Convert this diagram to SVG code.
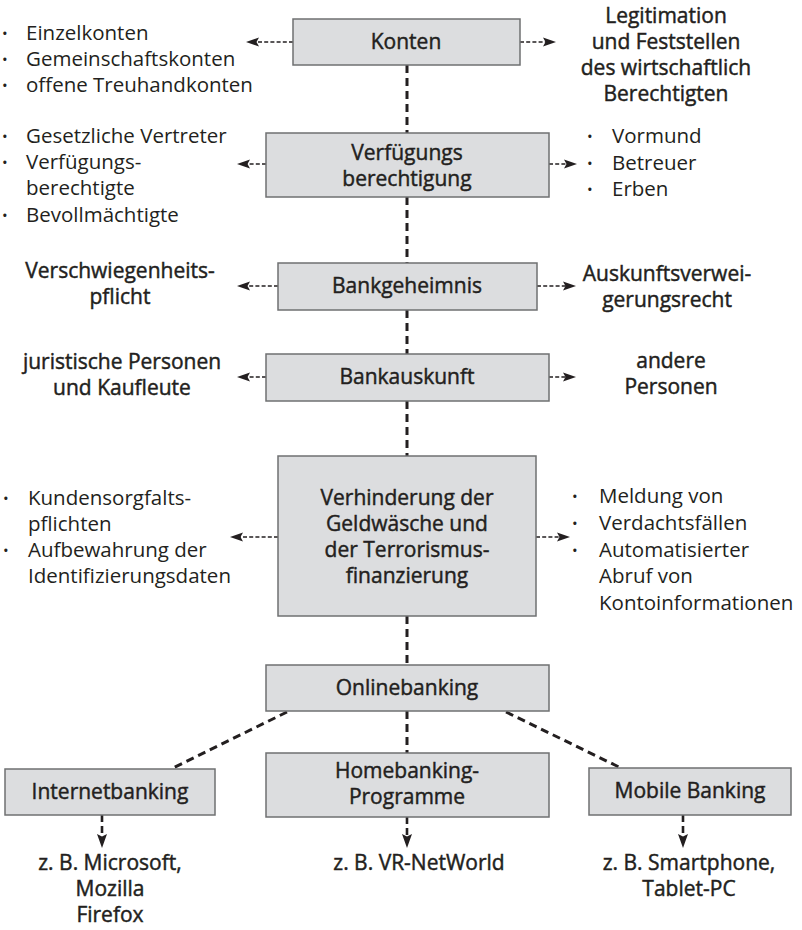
<svg xmlns="http://www.w3.org/2000/svg" width="802" height="930" viewBox="0 0 802 930">
<defs>
<style>
text{font-family:'Open Sans','Noto Sans',sans-serif;font-size:20.5px;fill:#231f20}
.b{font-size:21px;stroke:#231f20;stroke-width:0.45}
.c{text-anchor:middle}
.bu{font-size:15px}
.box{fill:#dcdddf;stroke:#6f7072;stroke-width:1.5}
.thin{stroke:#231f20;stroke-width:1.4;stroke-dasharray:4 2.2;fill:none}
.thick{stroke:#231f20;stroke-width:3;stroke-dasharray:8 5;fill:none}
.down{stroke:#231f20;stroke-width:2.6;stroke-dasharray:7 4;fill:none}
</style>
<marker id="ah" markerUnits="userSpaceOnUse" markerWidth="14" markerHeight="10" refX="7" refY="4.5" orient="auto" overflow="visible">
<path d="M0,0 L13,4.5 L0,9 L2.5,4.5 Z" fill="#231f20"/>
</marker>
<marker id="ahd" markerUnits="userSpaceOnUse" markerWidth="14" markerHeight="12" refX="6" refY="5" orient="auto" overflow="visible">
<path d="M0,0 L14,5 L0,10 L2.5,5 Z" fill="#231f20"/>
</marker>
</defs>
<rect width="802" height="930" fill="#ffffff"/>

<g id="connectors">
<line class="thick" x1="407" y1="65" x2="407" y2="133"/>
<line class="thick" x1="407" y1="197" x2="407" y2="263"/>
<line class="thick" x1="407" y1="310" x2="407" y2="354"/>
<line class="thick" x1="407" y1="401" x2="407" y2="456"/>
<line class="thick" x1="407" y1="616" x2="407" y2="665"/>
<line class="thick" x1="407" y1="711" x2="407" y2="753"/>
<line class="thick" x1="287" y1="712" x2="173" y2="768"/>
<line class="thick" x1="506" y1="712" x2="621" y2="768"/>
<line class="thin" x1="293" y1="42" x2="252" y2="42" marker-end="url(#ah)"/>
<line class="thin" x1="520" y1="42" x2="550" y2="42" marker-end="url(#ah)"/>
<line class="thin" x1="266" y1="164" x2="243" y2="164" marker-end="url(#ah)"/>
<line class="thin" x1="549" y1="164" x2="571" y2="164" marker-end="url(#ah)"/>
<line class="thin" x1="278" y1="286" x2="243" y2="286" marker-end="url(#ah)"/>
<line class="thin" x1="537" y1="286" x2="570" y2="286" marker-end="url(#ah)"/>
<line class="thin" x1="266" y1="377" x2="243" y2="377" marker-end="url(#ah)"/>
<line class="thin" x1="549" y1="377" x2="570" y2="377" marker-end="url(#ah)"/>
<line class="thin" x1="278" y1="537" x2="236" y2="537" marker-end="url(#ah)"/>
<line class="thin" x1="536" y1="537" x2="564" y2="537" marker-end="url(#ah)"/>
<line class="down" x1="102" y1="815" x2="102" y2="840" marker-end="url(#ahd)"/>
<line class="down" x1="407" y1="817" x2="407" y2="840" marker-end="url(#ahd)"/>
<line class="down" x1="683" y1="815" x2="683" y2="840" marker-end="url(#ahd)"/>
</g>

<g id="konten">
<rect class="box" x="293" y="19" width="227" height="46"/>
<text class="b c" x="406" y="49">Konten</text>
</g>
<g id="konten-links">
<text class="bu" x="2" y="39">•</text><text x="26" y="40">Einzelkonten</text>
<text class="bu" x="2" y="65">•</text><text x="26" y="66">Gemeinschaftskonten</text>
<text class="bu" x="2" y="91">•</text><text x="26" y="92">offene Treuhandkonten</text>
</g>
<g id="konten-rechts">
<text class="b c" x="666" y="23">Legitimation</text>
<text class="b c" x="666" y="49">und Feststellen</text>
<text class="b c" x="666" y="75">des wirtschaftlich</text>
<text class="b c" x="666" y="101">Berechtigten</text>
</g>

<g id="verfuegung">
<rect class="box" x="266" y="133" width="283" height="64"/>
<text class="b c" x="407" y="160">Verfügungs</text>
<text class="b c" x="407" y="186">berechtigung</text>
</g>
<g id="verfuegung-links">
<text class="bu" x="2" y="142">•</text><text x="26" y="143">Gesetzliche Vertreter</text>
<text class="bu" x="2" y="168">•</text><text x="26" y="169">Verfügungs-</text>
<text x="26" y="195">berechtigte</text>
<text class="bu" x="2" y="221">•</text><text x="26" y="222">Bevollmächtigte</text>
</g>
<g id="verfuegung-rechts">
<text class="bu" x="587" y="142">•</text><text x="612" y="143">Vormund</text>
<text class="bu" x="587" y="169">•</text><text x="612" y="170">Betreuer</text>
<text class="bu" x="587" y="195">•</text><text x="612" y="196">Erben</text>
</g>

<g id="bankgeheimnis">
<rect class="box" x="278" y="263" width="259" height="47"/>
<text class="b c" x="407" y="293">Bankgeheimnis</text>
</g>
<g id="bankgeheimnis-links">
<text class="b c" x="120" y="278">Verschwiegenheits-</text>
<text class="b c" x="120" y="304">pflicht</text>
</g>
<g id="bankgeheimnis-rechts">
<text class="b c" x="667" y="281">Auskunftsverwei-</text>
<text class="b c" x="667" y="307">gerungsrecht</text>
</g>

<g id="bankauskunft">
<rect class="box" x="266" y="354" width="283" height="47"/>
<text class="b c" x="407" y="384">Bankauskunft</text>
</g>
<g id="bankauskunft-links">
<text class="b c" x="122" y="369">juristische Personen</text>
<text class="b c" x="122" y="395">und Kaufleute</text>
</g>
<g id="bankauskunft-rechts">
<text class="b c" x="671" y="368">andere</text>
<text class="b c" x="671" y="394">Personen</text>
</g>

<g id="geldwaesche">
<rect class="box" x="278" y="456" width="258" height="160"/>
<text class="b c" x="407" y="505">Verhinderung der</text>
<text class="b c" x="407" y="531">Geldwäsche und</text>
<text class="b c" x="407" y="557">der Terrorismus-</text>
<text class="b c" x="407" y="583">finanzierung</text>
</g>
<g id="geldwaesche-links">
<text class="bu" x="3" y="504">•</text><text x="28" y="505">Kundensorgfalts-</text>
<text x="28" y="531">pflichten</text>
<text class="bu" x="3" y="556">•</text><text x="28" y="557">Aufbewahrung der</text>
<text x="28" y="583">Identifizierungsdaten</text>
</g>
<g id="geldwaesche-rechts">
<text class="bu" x="572" y="502">•</text><text x="599" y="503">Meldung von</text>
<text class="bu" x="572" y="529">•</text><text x="599" y="530">Verdachtsfällen</text>
<text class="bu" x="572" y="556">•</text><text x="599" y="557">Automatisierter</text>
<text x="599" y="583">Abruf von</text>
<text x="599" y="610">Kontoinformationen</text>
</g>

<g id="onlinebanking">
<rect class="box" x="266" y="665" width="283" height="46"/>
<text class="b c" x="407" y="695">Onlinebanking</text>
</g>

<g id="internetbanking">
<rect class="box" x="5" y="769" width="210" height="46"/>
<text class="b c" x="110" y="799">Internetbanking</text>
</g>
<g id="homebanking">
<rect class="box" x="266" y="753" width="283" height="64"/>
<text class="b c" x="407" y="778">Homebanking-</text>
<text class="b c" x="407" y="804">Programme</text>
</g>
<g id="mobilebanking">
<rect class="box" x="589" y="768" width="202" height="47"/>
<text class="b c" x="690" y="798">Mobile Banking</text>
</g>

<g id="beispiel-internet">
<text class="b c" x="110" y="870">z. B. Microsoft,</text>
<text class="b c" x="110" y="896">Mozilla</text>
<text class="b c" x="110" y="922">Firefox</text>
</g>
<g id="beispiel-homebanking">
<text class="b c" x="419" y="870">z. B. VR-NetWorld</text>
</g>
<g id="beispiel-mobile">
<text class="b c" x="689" y="870">z. B. Smartphone,</text>
<text class="b c" x="689" y="896">Tablet-PC</text>
</g>
</svg>
